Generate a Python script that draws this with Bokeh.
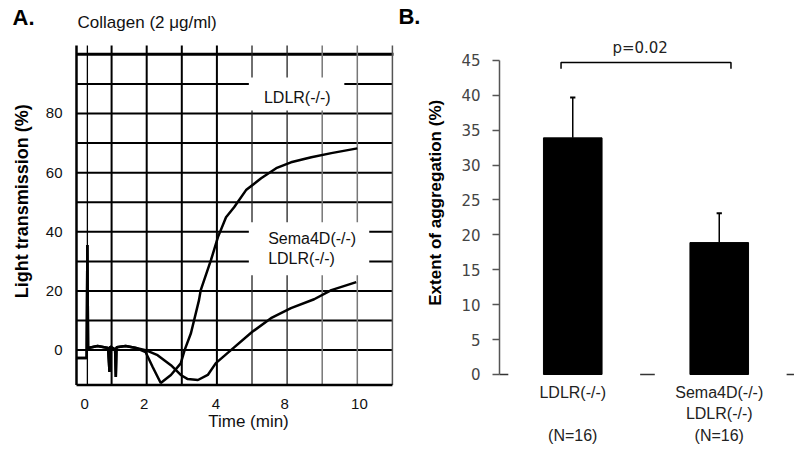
import math
from bokeh.plotting import figure
from bokeh.layouts import row
from bokeh.models import FixedTicker, Range1d
from bokeh.embed import file_html
from bokeh.resources import INLINE
from bokeh.core.properties import value

# ---------------- Panel A data (aggregometer traces) ----------------
# x in chart grid units (as printed on the tracing), y = light transmission (%)
time_ldlr = [0.0, 0.29, 0.31, 0.33, 0.6, 0.9, 0.94, 0.96, 1.1, 1.12, 1.14, 1.4, 1.7, 1.97,
             2.17, 2.4, 2.69, 2.97, 3.08, 3.26, 3.49, 3.54, 3.83, 4.03, 4.26, 4.49, 4.83,
             5.26, 5.69, 6.11, 6.69, 7.26, 8.0]
trans_ldlr = [-2.7, -2.7, 35.5, 0.7, 1.4, 0.7, -7.4, 1.2, 0.3, -9.1, 1.0, 1.4, 0.7, -0.7,
              -5.7, -11.1, -8.4, -4.5, 0.0, 5.7, 16.9, 20.3, 30.4, 38.2, 44.9, 48.3, 54.1,
              58.1, 61.5, 63.5, 65.2, 66.6, 68.2]

time_sema = [0.0, 0.29, 0.31, 0.33, 0.6, 0.9, 0.94, 0.96, 1.1, 1.12, 1.14, 1.4, 1.7, 1.97,
             2.31, 2.69, 2.97, 3.17, 3.46, 3.74, 3.97, 4.4, 5.0, 5.54, 6.11, 6.77, 7.26, 7.97]
trans_sema = [-2.7, -2.7, 35.5, 0.7, 1.4, 0.7, -7.4, 1.2, 0.3, -9.1, 1.0, 1.4, 0.7, 0.0,
              -1.7, -5.1, -8.4, -9.8, -10.1, -8.4, -4.4, 0.0, 6.1, 10.8, 14.2, 17.2, 20.3, 23.0]

time_tick_pos = [0.23, 1.93, 3.97, 5.93, 8.06]
time_tick_labels = ["0", "2", "4", "8", "10"]
trans_ticks = [0, 20, 40, 60, 80]
h_grid = [0, 10, 20, 30, 40, 50, 60, 70, 80, 90]
v_grid_dark = [1, 2, 3, 4]
v_grid_mid = [5, 6]
v_grid_light = [7, 8]

# ---------------- Panel B data (bar chart) ----------------
group_line1 = ["LDLR(-/-)", "Sema4D(-/-)"]
group_line2 = ["", "LDLR(-/-)"]
group_n = ["(N=16)", "(N=16)"]
agg_mean = [33.9, 18.9]
agg_err = [5.8, 4.2]
p_text = "p=0.02"
agg_ticks = [0, 5, 10, 15, 20, 25, 30, 35, 40, 45]

ARIAL = "Liberation Sans"
VERD = "DejaVu Sans"


def txt(p, x, y, s, size, align="center", bold=False, color="#111111", font=ARIAL, angle=0.0):
    p.text(x=[x], y=[y], text=[s], text_align=align, text_baseline="middle", angle=angle,
           text_font=value(font), text_font_size=size, text_color=color,
           text_font_style=value("bold" if bold else "normal"))


# ================= Panel A =================
XB, XT = 0.0, 9.0
YB, YT = -11.8, 103
pA = figure(width=395, height=449, x_range=Range1d(-2.165, 9.088), y_range=Range1d(-33.6, 118.2),
            output_backend="svg", toolbar_location=None,
            min_border_left=0, min_border_right=0, min_border_top=0, min_border_bottom=0)
pA.outline_line_color = None
pA.grid.visible = False

# grid
n = len(h_grid)
pA.segment(x0=[XB] * n, x1=[XT] * n, y0=h_grid, y1=h_grid, line_color="black", line_width=2)
pA.segment(x0=[XB], x1=[XT + 0.03], y0=[100], y1=[100], line_color="black", line_width=3)
pA.segment(x0=[0.31], x1=[0.31], y0=[YB], y1=[YT], line_color="black", line_width=1.3)
pA.segment(x0=v_grid_dark, x1=v_grid_dark, y0=[YB] * 4, y1=[YT] * 4, line_color="black", line_width=2)
pA.segment(x0=v_grid_mid, x1=v_grid_mid, y0=[YB] * 2, y1=[YT] * 2, line_color="#222222", line_width=1.3)
pA.segment(x0=v_grid_light, x1=v_grid_light, y0=[YB] * 2, y1=[YT] * 2, line_color="#777777", line_width=1.5)
# borders
pA.segment(x0=[XB], x1=[XB], y0=[YB], y1=[YT], line_color="black", line_width=2.5)
pA.segment(x0=[XT], x1=[XT], y0=[YB], y1=[YT], line_color="#555555", line_width=1.5)
pA.segment(x0=[XB], x1=[XT], y0=[YB], y1=[YB], line_color="black", line_width=2.5)

# white boxes behind the trace labels
pA.quad(left=[4.91, 4.91], right=[7.63, 8.34], bottom=[81, 25.3], top=[92.2, 43.2],
        fill_color="white", line_color=None)

# traces
pA.line(time_ldlr, trans_ldlr, line_color="black", line_width=2.5)
pA.line(time_sema, trans_sema, line_color="black", line_width=2.5)

txt(pA, 6.29, 85.5, "LDLR(-/-)", "16px")
txt(pA, 5.46, 37.6, "Sema4D(-/-)", "16px", align="left")
txt(pA, 5.46, 30.9, "LDLR(-/-)", "16px", align="left")

# axes (fixed inside the full-size frame)
pA.xaxis.fixed_location = YB
pA.yaxis.fixed_location = XB
pA.xaxis.ticker = FixedTicker(ticks=time_tick_pos)
pA.xaxis.major_label_overrides = dict(zip(time_tick_pos, time_tick_labels))
pA.yaxis.ticker = FixedTicker(ticks=trans_ticks)
for ax in (pA.xaxis, pA.yaxis):
    ax.axis_line_color = None
    ax.major_tick_line_color = None
    ax.minor_tick_line_color = None
    ax.major_label_text_font = ARIAL
    ax.major_label_text_font_size = "15px"
    ax.major_label_text_color = "#111111"
pA.xaxis.major_label_standoff = 8
pA.yaxis.major_label_standoff = 8

# titles
txt(pA, -1.82, 112.5, "A.", "22px", align="left", bold=True, color="black")
txt(pA, 0.03, 110.8, "Collagen (2 \u03bcg/ml)", "17px", align="left")
txt(pA, -1.54, 50.3, "Light transmission (%)", "18px", bold=True, color="black", angle=math.pi / 2)
txt(pA, 4.9, -24.3, "Time (min)", "17px")

# ================= Panel B =================
pB = figure(width=403, height=449, x_range=Range1d(-0.71, 2.041), y_range=Range1d(-10.745, 53.58),
            output_backend="svg", toolbar_location=None, x_axis_location=None,
            min_border_left=0, min_border_right=0, min_border_top=0, min_border_bottom=0)
pB.outline_line_color = None
pB.grid.visible = False

xs = [i + 0.5 for i in range(len(agg_mean))]
tops = [m + e for m, e in zip(agg_mean, agg_err)]
pB.vbar(x=xs, top=agg_mean, bottom=0, width=0.4, fill_color="black", line_color="black")
pB.segment(x0=xs, x1=xs, y0=agg_mean, y1=tops, line_color="black", line_width=1.5)
pB.segment(x0=[x - 0.018 for x in xs], x1=[x + 0.018 for x in xs], y0=tops, y1=tops,
           line_color="black", line_width=2)

# x-axis remnants at category boundaries
pB.segment(x0=[0, 0.96, 1.96], x1=[0.06, 1.06, 2.01], y0=[0, 0, 0], y1=[0, 0, 0],
           line_color="#333333", line_width=1.5)

# significance bracket
pB.line([0.42, 0.42, 1.58, 1.58], [43.8, 44.7, 44.7, 43.8], line_color="black", line_width=1.5)
txt(pB, 0.96, 46.8, p_text, "15px", font=VERD, color="#222222")

# category labels
pB.text(x=xs, y=[-2.6] * 2, text=group_line1, text_align="center", text_baseline="middle",
        text_font=value(ARIAL), text_font_size="16px", text_color="#222222")
pB.text(x=xs, y=[-5.6] * 2, text=group_line2, text_align="center", text_baseline="middle",
        text_font=value(ARIAL), text_font_size="16px", text_color="#222222")
pB.text(x=xs, y=[-8.7] * 2, text=group_n, text_align="center", text_baseline="middle",
        text_font=value(ARIAL), text_font_size="16px", text_color="#222222")

pB.yaxis.fixed_location = 0
pB.yaxis.bounds = (0, 45)
pB.yaxis.ticker = FixedTicker(ticks=agg_ticks)
pB.yaxis.major_tick_out = 7
pB.yaxis.major_tick_in = 0
pB.yaxis.minor_tick_line_color = None
pB.yaxis.axis_line_color = "#555555"
pB.yaxis.axis_line_width = 1.5
pB.yaxis.major_tick_line_color = "#555555"
pB.yaxis.major_tick_line_width = 1.5
pB.yaxis.major_label_standoff = 12
pB.yaxis.major_label_text_font = VERD
pB.yaxis.major_label_text_font_size = "15px"
pB.yaxis.major_label_text_color = "#444444"

txt(pB, -0.69, 51.3, "B.", "22px", align="left", bold=True, color="black")
txt(pB, -0.437, 24.6, "Extent of aggregation (%)", "17px", bold=True, color="black", angle=math.pi / 2)

layout = row(pA, pB)
open("out.html", "w").write(file_html(layout, INLINE))
